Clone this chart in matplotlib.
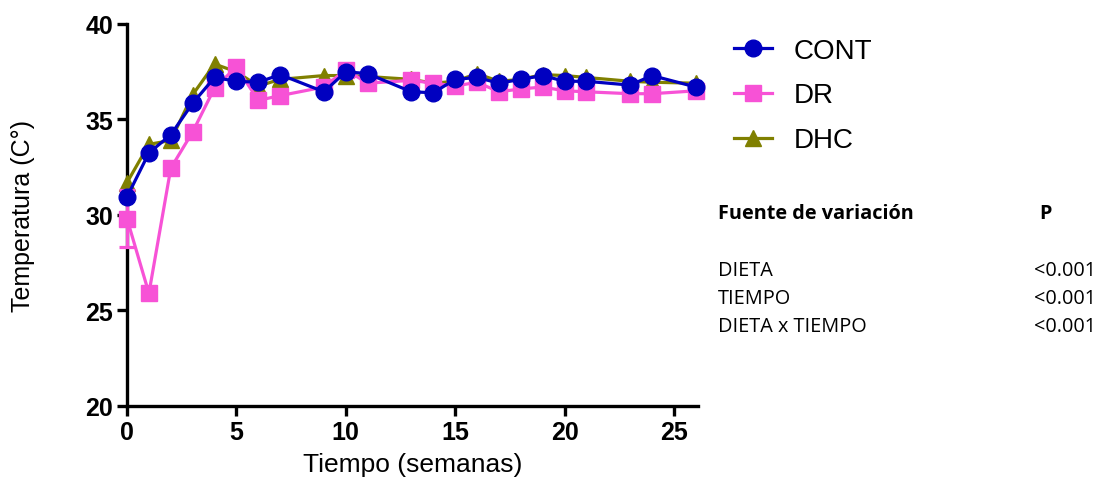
import matplotlib
matplotlib.use("Agg")
import matplotlib.pyplot as plt
from matplotlib.lines import Line2D

plt.rcParams['font.family'] = ['Liberation Sans', 'DejaVu Sans']

weeks = [0, 1, 2, 3, 4, 5, 6, 7, 9, 10, 11, 13, 14, 15, 16, 17, 18, 19, 20, 21, 23, 24, 26]
cont = [30.95, 33.25, 34.2, 35.85, 37.2, 37.0, 36.95, 37.35, 36.45, 37.5, 37.4, 36.45, 36.4,
        37.1, 37.2, 36.9, 37.1, 37.3, 37.0, 37.0, 36.8, 37.3, 36.7]
dr = [29.8, 25.9, 32.45, 34.35, 36.65, 37.75, 36.0, 36.25, 36.7, 37.6, 36.9, 37.05, 36.9,
      36.75, 36.95, 36.45, 36.6, 36.7, 36.5, 36.45, 36.35, 36.35, 36.5]
dr_err = [1.5, 0.25, 0, 0, 0, 0, 0, 0, 0, 0, 0, 0, 0, 0, 0, 0, 0, 0, 0, 0, 0, 0, 0]
dhc = [31.7, 33.7, 33.9, 36.3, 37.9, 37.5, 36.75, 37.1, 37.3, 37.3, 37.25, 37.1, 36.9,
       37.0, 37.4, 37.0, 37.1, 37.35, 37.3, 37.2, 37.0, 36.95, 36.9]

factors = ["DIETA", "TIEMPO", "DIETA x TIEMPO"]
pvals = ["<0.001", "<0.001", "<0.001"]

c_blue = "#0000C0"
c_pink = "#F752D6"
c_olive = "#808000"

fig = plt.figure(figsize=(10.99, 4.89), dpi=100)
ax = fig.add_axes([0.1156, 0.1677, 0.5195, 0.7812])

lw = 2.3
ax.plot(weeks, dhc, color=c_olive, lw=lw, marker="^", ms=11,
        clip_on=False, zorder=3)
ax.errorbar(weeks, dr, yerr=dr_err, color=c_pink, lw=lw, marker="s", ms=11,
            capsize=6, capthick=lw, elinewidth=lw, clip_on=False, zorder=4)
ax.plot(weeks, cont, color=c_blue, lw=lw, marker="o", ms=12,
        clip_on=False, zorder=5)

ax.set_xlim(0, 26.1)
ax.set_ylim(20, 40)
ax.set_xticks([0, 5, 10, 15, 20, 25])
ax.set_yticks([20, 25, 30, 35, 40])
for s in ["top", "right"]:
    ax.spines[s].set_visible(False)
for s in ["left", "bottom"]:
    ax.spines[s].set_linewidth(2.4)
ax.tick_params(width=2.4, length=7, labelsize=18, direction="out", pad=3)
for lab in ax.get_xticklabels() + ax.get_yticklabels():
    lab.set_fontweight("bold")

ax.set_xlabel("Tiempo (semanas)", fontsize=19, labelpad=6)
ax.set_ylabel("Temperatura (C°)", fontsize=18, labelpad=36)

handles = [
    Line2D([], [], color=c_blue, lw=lw, marker="o", ms=12),
    Line2D([], [], color=c_pink, lw=lw, marker="s", ms=11),
    Line2D([], [], color=c_olive, lw=lw, marker="^", ms=11),
]
ax.legend(handles, ["CONT", "DR", "DHC"], loc="upper left",
          bbox_to_anchor=(1.02, 1.03), frameon=False, fontsize=20,
          handlelength=1.35, labelspacing=0.68, handletextpad=0.8)

tfont = ["Open Sans", "DejaVu Sans"]
fs = 14.3
fig.text(0.653, 0.562, "Fuente de variación", fontsize=fs, fontweight="bold",
         family=tfont, va="center", ha="left")
fig.text(0.951, 0.562, "P", fontsize=fs, fontweight="bold", family=tfont,
         va="center", ha="center")
ys = [0.446, 0.389, 0.331]
for y, f, p in zip(ys, factors, pvals):
    fig.text(0.653, y, f, fontsize=fs, family=tfont, va="center", ha="left")
    fig.text(0.997, y, p, fontsize=fs, family=tfont, va="center", ha="right")

fig.savefig("out.png", dpi=100)
